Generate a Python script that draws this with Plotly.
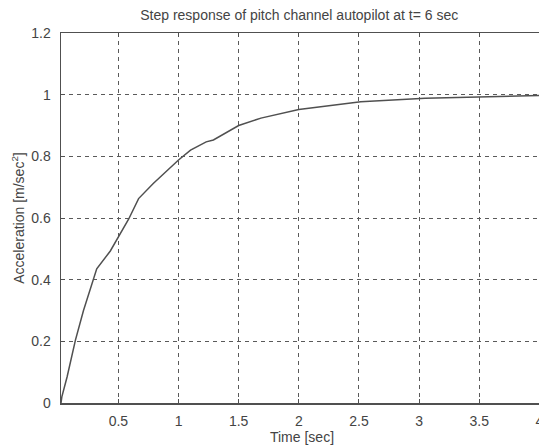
import plotly.graph_objects as go

time_s = [0.023, 0.03, 0.074, 0.143, 0.21, 0.295, 0.32, 0.433, 0.53, 0.585, 0.668,
          0.79, 1.0, 1.1, 1.23, 1.29, 1.5, 1.685, 2.0, 2.37, 2.515, 3.05, 3.52, 3.97, 4.03]
accel = [0.0, 0.02, 0.085, 0.204, 0.30, 0.40, 0.435, 0.493, 0.56, 0.596, 0.663,
         0.712, 0.788, 0.82, 0.847, 0.853, 0.90, 0.924, 0.952, 0.971, 0.977, 0.988, 0.993, 0.997, 0.998]

x_ticks = [0.5, 1, 1.5, 2, 2.5, 3, 3.5, 4]
x_tick_text = ["0.5", "1", "1.5", "2", "2.5", "3", "3.5", "4"]
y_ticks = [0, 0.2, 0.4, 0.6, 0.8, 1, 1.2]
y_tick_text = ["0", "0.2", "0.4", "0.6", "0.8", "1", "1.2"]

ink = "#444444"
font = "Liberation Sans"

fig = go.Figure()
fig.add_trace(go.Scatter(x=time_s, y=accel, mode="lines",
                         line=dict(color="#505050", width=1.5), showlegend=False))

fig.update_layout(
    width=545, height=445,
    margin=dict(l=61, r=0, t=33, b=42),
    paper_bgcolor="white", plot_bgcolor="white",
    font=dict(family=font, size=14, color=ink),
    title=dict(text="Step response of pitch channel autopilot at t= 6 sec",
               x=0.549, xanchor="center", xref="container",
               y=0.966, yanchor="middle", yref="container",
               font=dict(family=font, size=14, color=ink)),
)
fig.update_xaxes(
    range=[0.023, 4.03], tickvals=x_ticks, ticktext=x_tick_text,
    showgrid=True, gridcolor="#5a5a5a", gridwidth=1, griddash="4px,4px",
    showline=True, linecolor="#505050", linewidth=1.5, mirror="allticks",
    ticks="inside", ticklen=4, tickcolor="#505050",
    ticklabelstandoff=5, ticklabeloverflow="allow",
    zeroline=False,
    title=dict(text="Time [sec]", standoff=4, font=dict(size=14)),
    tickfont=dict(size=14),
)
fig.update_yaxes(
    range=[0, 1.2], tickvals=y_ticks, ticktext=y_tick_text,
    showgrid=True, gridcolor="#5a5a5a", gridwidth=1, griddash="4px,4px",
    showline=True, linecolor="#505050", linewidth=1.5, mirror="allticks",
    ticks="inside", ticklen=4, tickcolor="#505050",
    ticklabelstandoff=6,
    zeroline=False,
    title=dict(text="Acceleration [m/sec<sup>2</sup>]", standoff=3, font=dict(size=14)),
    tickfont=dict(size=14),
)

fig.write_html(
    "out.html",
    config={"displayModeBar": False, "staticPlot": True},
    post_script="document.body.style.margin='0';document.body.style.overflow='hidden';",
)
